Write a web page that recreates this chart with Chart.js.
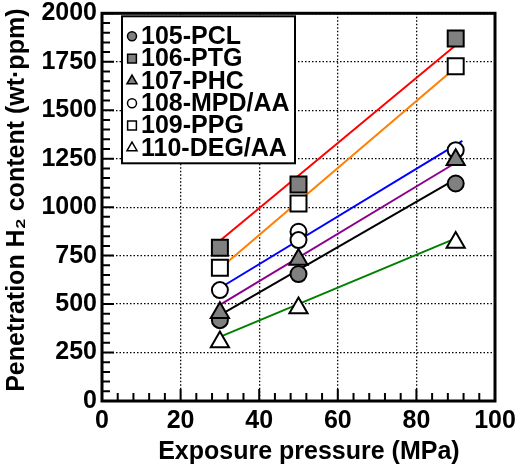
<!DOCTYPE html>
<html>
<head>
<meta charset="utf-8">
<script src="https://cdn.jsdelivr.net/npm/chart.js@4.4.1/dist/chart.umd.min.js"></script>
<style>
  html, body { margin: 0; padding: 0; background: #fff; }
</style>
</head>
<body>
<canvas id="chart" width="515" height="465"></canvas>
<script>
// measured points (x = exposure pressure, MPa)
const pressures = [30, 50, 90];
const pressures108 = [30, 50, 50, 90];
const pcl105 = [417, 655, 1122];
const ptg106 = [790, 1117, 1870];
const phc107 = [455, 730, 1245];
const mpd108 = [572, 873, 830, 1294];
const ppg109 = [687, 1019, 1727];
const deg110 = [304, 480, 818];

// fitted lines at their two ends
const fitX = [30, 90];
const fitX108 = [30, 91.7];
const fit105 = [443, 1144];
const fit106 = [827, 1835];
const fit107 = [496, 1229];
const fit108 = [583, 1342];
const fit109 = [683, 1720];
const fit110 = [331, 839];

const xTicks = [0, 20, 40, 60, 80, 100];
const yTicks = [0, 250, 500, 750, 1000, 1250, 1500, 1750, 2000];

const FONT = "'Liberation Sans', Arial, sans-serif";
const GRAY = '#808080';

const pts = (xs, ys) => xs.map((x, i) => ({ x, y: ys[i] }));

function markers(label, xs, ys, style, fill, radius, order) {
  return {
    label,
    data: pts(xs, ys),
    pointStyle: style,
    pointRadius: radius,
    backgroundColor: fill,
    borderColor: '#000',
    pointBorderWidth: 2,
    showLine: false,
    inLegend: true,
    order
  };
}

function fitLine(xs, ys, color) {
  return {
    label: '',
    data: pts(xs, ys),
    showLine: true,
    pointRadius: 0,
    borderColor: color,
    borderWidth: 2,
    inLegend: false,
    order: 10
  };
}

const datasets = [
  markers('105-PCL', pressures, pcl105, 'circle', GRAY, 8, 2),
  markers('106-PTG', pressures, ptg106, 'rect', GRAY, 11.3, 1),
  markers('107-PHC', pressures, phc107, 'triangle', GRAY, 10.5, 0),
  markers('108-MPD/AA', pressures108, mpd108, 'circle', '#fff', 8, 2),
  markers('109-PPG', pressures, ppg109, 'rect', '#fff', 11.3, 1),
  markers('110-DEG/AA', pressures, deg110, 'triangle', '#fff', 10.5, 3),
  fitLine(fitX, fit105, '#000000'),
  fitLine(fitX, fit106, '#ff0000'),
  fitLine(fitX, fit107, '#8b008b'),
  fitLine(fitX108, fit108, '#0000ff'),
  fitLine(fitX, fit109, '#ff7f00'),
  fitLine(fitX, fit110, '#008000')
];

// inward ticks + heavy frame
const frameTicks = {
  id: 'frameTicks',
  afterDraw(chart) {
    const { ctx, chartArea: a, scales: { x, y } } = chart;
    ctx.save();
    ctx.strokeStyle = '#000';
    ctx.lineWidth = 2;
    ctx.beginPath();
    for (let v = 0; v <= 100; v += 4) {
      const px = x.getPixelForValue(v);
      const len = v % 20 === 0 ? 12 : 8;
      ctx.moveTo(px, a.bottom);
      ctx.lineTo(px, a.bottom - len);
    }
    for (let v = 0; v <= 2000; v += 50) {
      const py = y.getPixelForValue(v);
      const len = v % 250 === 0 ? 12 : 8;
      ctx.moveTo(a.left, py);
      ctx.lineTo(a.left + len, py);
    }
    ctx.stroke();
    ctx.lineWidth = 3;
    ctx.strokeRect(a.left, a.top, a.right - a.left, a.bottom - a.top);
    ctx.restore();
  }
};

// boxed legend in the top-left corner of the plot
const boxLegend = {
  id: 'boxLegend',
  afterDraw(chart) {
    const { ctx, chartArea: a } = chart;
    const items = chart.data.datasets.filter(d => d.inLegend);
    const left = a.left + 20, top = a.top + 3, w = 173, h = 147;
    ctx.save();
    ctx.fillStyle = '#fff';
    ctx.fillRect(left, top, w, h);
    ctx.lineWidth = 2;
    ctx.strokeStyle = '#000';
    ctx.strokeRect(left, top, w, h);
    ctx.font = 'bold 25px ' + FONT;
    ctx.textBaseline = 'middle';
    items.forEach((d, i) => {
      const cy = top + 20 + i * 22.3;
      const r = d.pointStyle === 'circle' ? 4.5 : d.pointStyle === 'rect' ? 6.2 : 5.8;
      ctx.fillStyle = d.backgroundColor;
      ctx.strokeStyle = '#000';
      ctx.lineWidth = 1.5;
      Chart.helpers.drawPoint(ctx, { pointStyle: d.pointStyle, radius: r, rotation: 0, borderWidth: 1.5 }, left + 10, cy);
      ctx.fillStyle = '#000';
      ctx.fillText(d.label, left + 19, cy + 1);
    });
    ctx.restore();
  }
};

const tickFont = { family: FONT, size: 25, weight: 'bold', lineHeight: 1 };
const titleFont = { family: FONT, size: 25, weight: 'bold', lineHeight: 1 };

new Chart(document.getElementById('chart'), {
  type: 'scatter',
  data: { datasets },
  options: {
    responsive: false,
    animation: false,
    layout: { padding: { left: 0, top: 13, right: 20, bottom: 0 } },
    plugins: { legend: { display: false }, tooltip: { enabled: false } },
    scales: {
      x: {
        type: 'linear',
        min: 0,
        max: 100,
        afterBuildTicks: s => { s.ticks = xTicks.map(value => ({ value })); },
        afterFit: s => { s.height = 64; s.paddingLeft = 0; s.paddingRight = 0; },
        ticks: { color: '#000', padding: 8, font: tickFont, callback: v => String(v) },
        grid: { color: '#000', lineWidth: 1.3, drawTicks: false },
        border: { display: false, dash: [1.5, 2] },
        title: {
          display: true,
          // leading spaces nudge the centred title right, as in the original
          text: '   Exposure pressure (MPa)',
          color: '#000',
          padding: { top: 0, bottom: 0 },
          font: titleFont
        }
      },
      y: {
        type: 'linear',
        min: 0,
        max: 2000,
        afterBuildTicks: s => { s.ticks = yTicks.map(value => ({ value })); },
        afterFit: s => { s.width = 102; s.paddingTop = 0; s.paddingBottom = 0; },
        ticks: { color: '#000', padding: 5, font: tickFont, callback: v => String(v) },
        grid: { color: '#000', lineWidth: 1.3, drawTicks: false },
        border: { display: false, dash: [1.5, 2] },
        title: {
          display: true,
          text: '  Penetration H\u2082 content (wt\u00b7ppm)',
          color: '#000',
          padding: { top: 5, bottom: 0 },
          font: titleFont
        }
      }
    }
  },
  plugins: [frameTicks, boxLegend]
});
</script>
</body>
</html>
